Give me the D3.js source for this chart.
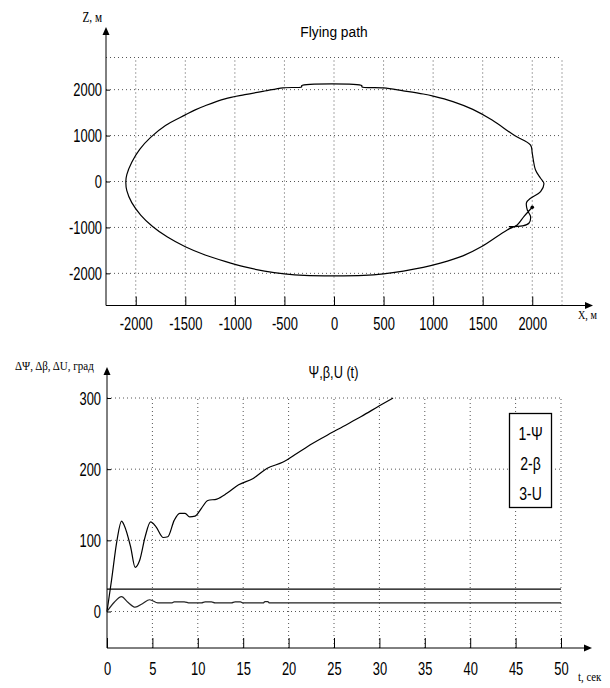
<!DOCTYPE html>
<html>
<head>
<meta charset="utf-8">
<script src="https://cdn.jsdelivr.net/npm/d3@7"></script>
<style>
body { margin: 0; background: #fff; }
</style>
</head>
<body>
<div id="chart"></div>
<script>
// ---- data ----
// flight path, X and Z in metres (starts at the dot near X=2000, Z=-560)
var pathX = [2000, 1915, 1848, 1747, 1490, 1300, 1073, 900, 700, 500, 300, 0, -300, -500, -700, -900, -1100, -1300, -1500, -1680, -1830, -1950, -2040, -2090, -2100, -2090, -2040, -1960, -1850, -1700, -1500, -1400, -1300, -1100, -900, -700, -514, -326, -326, 281, 281, 500, 700, 900, 1000, 1200, 1400, 1595, 1814, 1983, 2000, 2033, 2084, 2117, 2084, 1983, 1942, 1950, 1983, 1966, 1899, 1764];
var pathZ = [-561, -765, -946, -1054, -1417, -1620, -1779, -1870, -1950, -2010, -2045, -2055, -2045, -2010, -1950, -1860, -1740, -1600, -1420, -1210, -980, -730, -460, -200, 0, 150, 420, 700, 960, 1220, 1450, 1560, 1650, 1800, 1890, 1970, 2040, 2062, 2086, 2086, 2062, 2040, 1975, 1905, 1860, 1740, 1570, 1337, 1011, 793, 613, 250, 70, -39, -222, -365, -460, -620, -765, -909, -967, -982];

var xTicks = [-2000, -1500, -1000, -500, 0, 500, 1000, 1500, 2000];
var zTicks = [-2000, -1000, 0, 1000, 2000];

// angles vs time
var tPsi = [0, 0.5, 1.1, 1.6, 1.9, 2.6, 3.1, 3.6, 4.2, 4.8, 5.4, 6.2, 6.7, 7.4, 8, 8.6, 9.1, 9.7, 10.4, 11.1, 12.1, 13.2, 14.5, 16.1, 17.6, 19.4, 20.9, 22.1, 24, 26, 28, 30, 31.5];
var psi  = [0, 44, 100, 127, 121, 91, 62, 72, 105, 126, 119, 104, 105, 128, 138, 138, 133, 134, 145, 156, 158, 166, 178, 187, 201, 210, 222, 232, 246, 260, 274, 289, 300];

var tBeta = [0, 0.8, 1.6, 2.3, 3.1, 3.9, 4.7, 5.6, 7.1, 7.4, 8.5, 9.1, 10.4, 10.8, 11.5, 11.9, 13.7, 14.1, 14.7, 15, 17.2, 17.4, 17.7, 17.9, 50];
var beta  = [0, 13, 21, 13, 6, 11, 16.5, 12, 12, 13.5, 13.5, 12, 12, 13.5, 13.5, 12, 12, 13.5, 13.5, 12, 12, 14, 14, 12, 12];

var tU = [0, 50];
var u  = [31.5, 31.5];

var tTicks = [0, 5, 10, 15, 20, 25, 30, 35, 40, 45, 50];
var aTicks = [0, 100, 200, 300];

var legendLabels = ["1-\u03A8", "2-\u03B2", "3-U"];

// ---- drawing ----
var width = 610, height = 688;
var sans = '"Liberation Sans", Arial, sans-serif';
var serif = '"Liberation Serif", "Times New Roman", serif';
var plain = function (d) { return String(d); };   // keep ascii hyphen as minus

var svg = d3.select("#chart").append("svg")
    .attr("width", width)
    .attr("height", height);

function squeeze(g, sx) {
    g.selectAll(".tick text").each(function () {
        var t = d3.select(this);
        var x = +t.attr("x") || 0;
        t.attr("x", x / sx).attr("transform", "scale(" + sx + ",1)");
    });
}

function dotted(g, x1, y1, x2, y2) {
    g.append("line")
        .attr("x1", x1).attr("y1", y1).attr("x2", x2).attr("y2", y2)
        .attr("stroke", "#555").attr("stroke-width", 1)
        .attr("stroke-dasharray", "1,3");
}

function arrows(x0, y0, xTip, yTip) {
    svg.append("line").attr("x1", x0).attr("y1", y0).attr("x2", xTip - 6).attr("y2", y0)
        .attr("stroke", "#000");
    svg.append("path").attr("d", "M" + xTip + "," + y0 + "L" + (xTip - 8) + "," + (y0 - 3.5) + "L" + (xTip - 8) + "," + (y0 + 3.5) + "Z")
        .attr("fill", "#000");
    svg.append("line").attr("x1", x0).attr("y1", y0).attr("x2", x0).attr("y2", yTip + 6)
        .attr("stroke", "#000");
    svg.append("path").attr("d", "M" + x0 + "," + yTip + "L" + (x0 - 3.5) + "," + (yTip + 8) + "L" + (x0 + 3.5) + "," + (yTip + 8) + "Z")
        .attr("fill", "#000");
}

function label(txt, x, y, size, sx, anchor, family) {
    svg.append("text")
        .attr("transform", "translate(" + x + "," + y + ") scale(" + sx + ",1)")
        .attr("text-anchor", anchor)
        .attr("font-family", family)
        .attr("font-size", size)
        .attr("fill", "#000")
        .text(txt);
}

// ===== top chart: flying path =====
var x1 = d3.scaleLinear().domain([-2300, 2300]).range([106, 562]);
var z1 = d3.scaleLinear().domain([-2700, 2700]).range([305.5, 57.5]);

var grid1 = svg.append("g");
xTicks.concat([2300]).forEach(function (d) { dotted(grid1, x1(d), z1(-2700), x1(d), z1(2700)); });
zTicks.concat([2700]).forEach(function (d) { dotted(grid1, x1(-2300), z1(d), x1(2300), z1(d)); });

var xa1 = svg.append("g")
    .attr("transform", "translate(0," + z1(-2700) + ")")
    .call(d3.axisBottom(x1).tickValues(xTicks).tickSize(-9).tickPadding(11).tickFormat(plain))
    .attr("font-size", 19).attr("font-family", sans);
xa1.select(".domain").remove();
squeeze(xa1, 0.68);

var za1 = svg.append("g")
    .attr("transform", "translate(" + x1(-2300) + ",0)")
    .call(d3.axisLeft(z1).tickValues(zTicks).tickSize(-4).tickPadding(4).tickFormat(plain))
    .attr("font-size", 19).attr("font-family", sans);
za1.select(".domain").remove();
squeeze(za1, 0.68);

arrows(x1(-2300), z1(-2700), 593, 27);

var pts = pathX.map(function (d, i) { return [d, pathZ[i]]; });
svg.append("path")
    .datum(pts)
    .attr("fill", "none")
    .attr("stroke", "#000")
    .attr("stroke-width", 1.2)
    .attr("d", d3.line().curve(d3.curveCatmullRom.alpha(0.5))
        .x(function (d) { return x1(d[0]); }).y(function (d) { return z1(d[1]); }));
svg.append("circle")
    .attr("cx", x1(pathX[0])).attr("cy", z1(pathZ[0])).attr("r", 1.8)
    .attr("fill", "#000");

label("Flying path", 334, 37, 14.5, 0.95, "middle", sans);
label("Z, \u043C", 102, 22, 14, 0.8, "end", serif);
label("X, \u043C", 578, 319, 12, 0.85, "start", serif);

// ===== bottom chart: angles vs time =====
var x2 = d3.scaleLinear().domain([0, 50]).range([107, 561]);
var y2 = d3.scaleLinear().domain([-51.3, 300]).range([648, 398]);

var grid2 = svg.append("g");
tTicks.slice(1).forEach(function (d) { dotted(grid2, x2(d), y2(-51.3), x2(d), y2(300)); });
aTicks.forEach(function (d) { dotted(grid2, x2(0), y2(d), x2(50), y2(d)); });

var xa2 = svg.append("g")
    .attr("transform", "translate(0," + y2(-51.3) + ")")
    .call(d3.axisBottom(x2).tickValues(tTicks).tickSize(-10).tickPadding(14).tickFormat(plain))
    .attr("font-size", 19).attr("font-family", sans);
xa2.select(".domain").remove();
squeeze(xa2, 0.68);

var ya2 = svg.append("g")
    .attr("transform", "translate(" + x2(0) + ",0)")
    .call(d3.axisLeft(y2).tickValues(aTicks).tickSize(-4).tickPadding(6).tickFormat(plain))
    .attr("font-size", 19).attr("font-family", sans);
ya2.select(".domain").remove();
squeeze(ya2, 0.68);

arrows(x2(0), y2(-51.3), 592, 367);

var line2 = d3.line()
    .curve(d3.curveMonotoneX)
    .x(function (d) { return x2(d[0]); })
    .y(function (d) { return y2(d[1]); });

[[tPsi, psi, "#000"], [tBeta, beta, "#222"], [tU, u, "#000"]].forEach(function (s) {
    svg.append("path")
        .datum(s[0].map(function (t, i) { return [t, s[1][i]]; }))
        .attr("fill", "none")
        .attr("stroke", s[2])
        .attr("stroke-width", 1.2)
        .attr("d", line2);
});

// legend
svg.append("rect")
    .attr("x", 509.5).attr("y", 413.5).attr("width", 42).attr("height", 94)
    .attr("fill", "#fff").attr("stroke", "#000").attr("stroke-width", 1.3);
legendLabels.forEach(function (d, i) {
    label(d, 530.5, 440 + i * 30, 18, 0.78, "middle", sans);
});

label("\u03A8,\u03B2,U (t)", 333.5, 378, 17, 0.75, "middle", sans);
label("\u0394\u03A8, \u0394\u03B2, \u0394U, \u0433\u0440\u0430\u0434", 15, 370, 12, 0.92, "start", serif);
label("t, \u0441\u0435\u043A", 578, 681, 12, 0.9, "start", serif);
</script>
</body>
</html>
